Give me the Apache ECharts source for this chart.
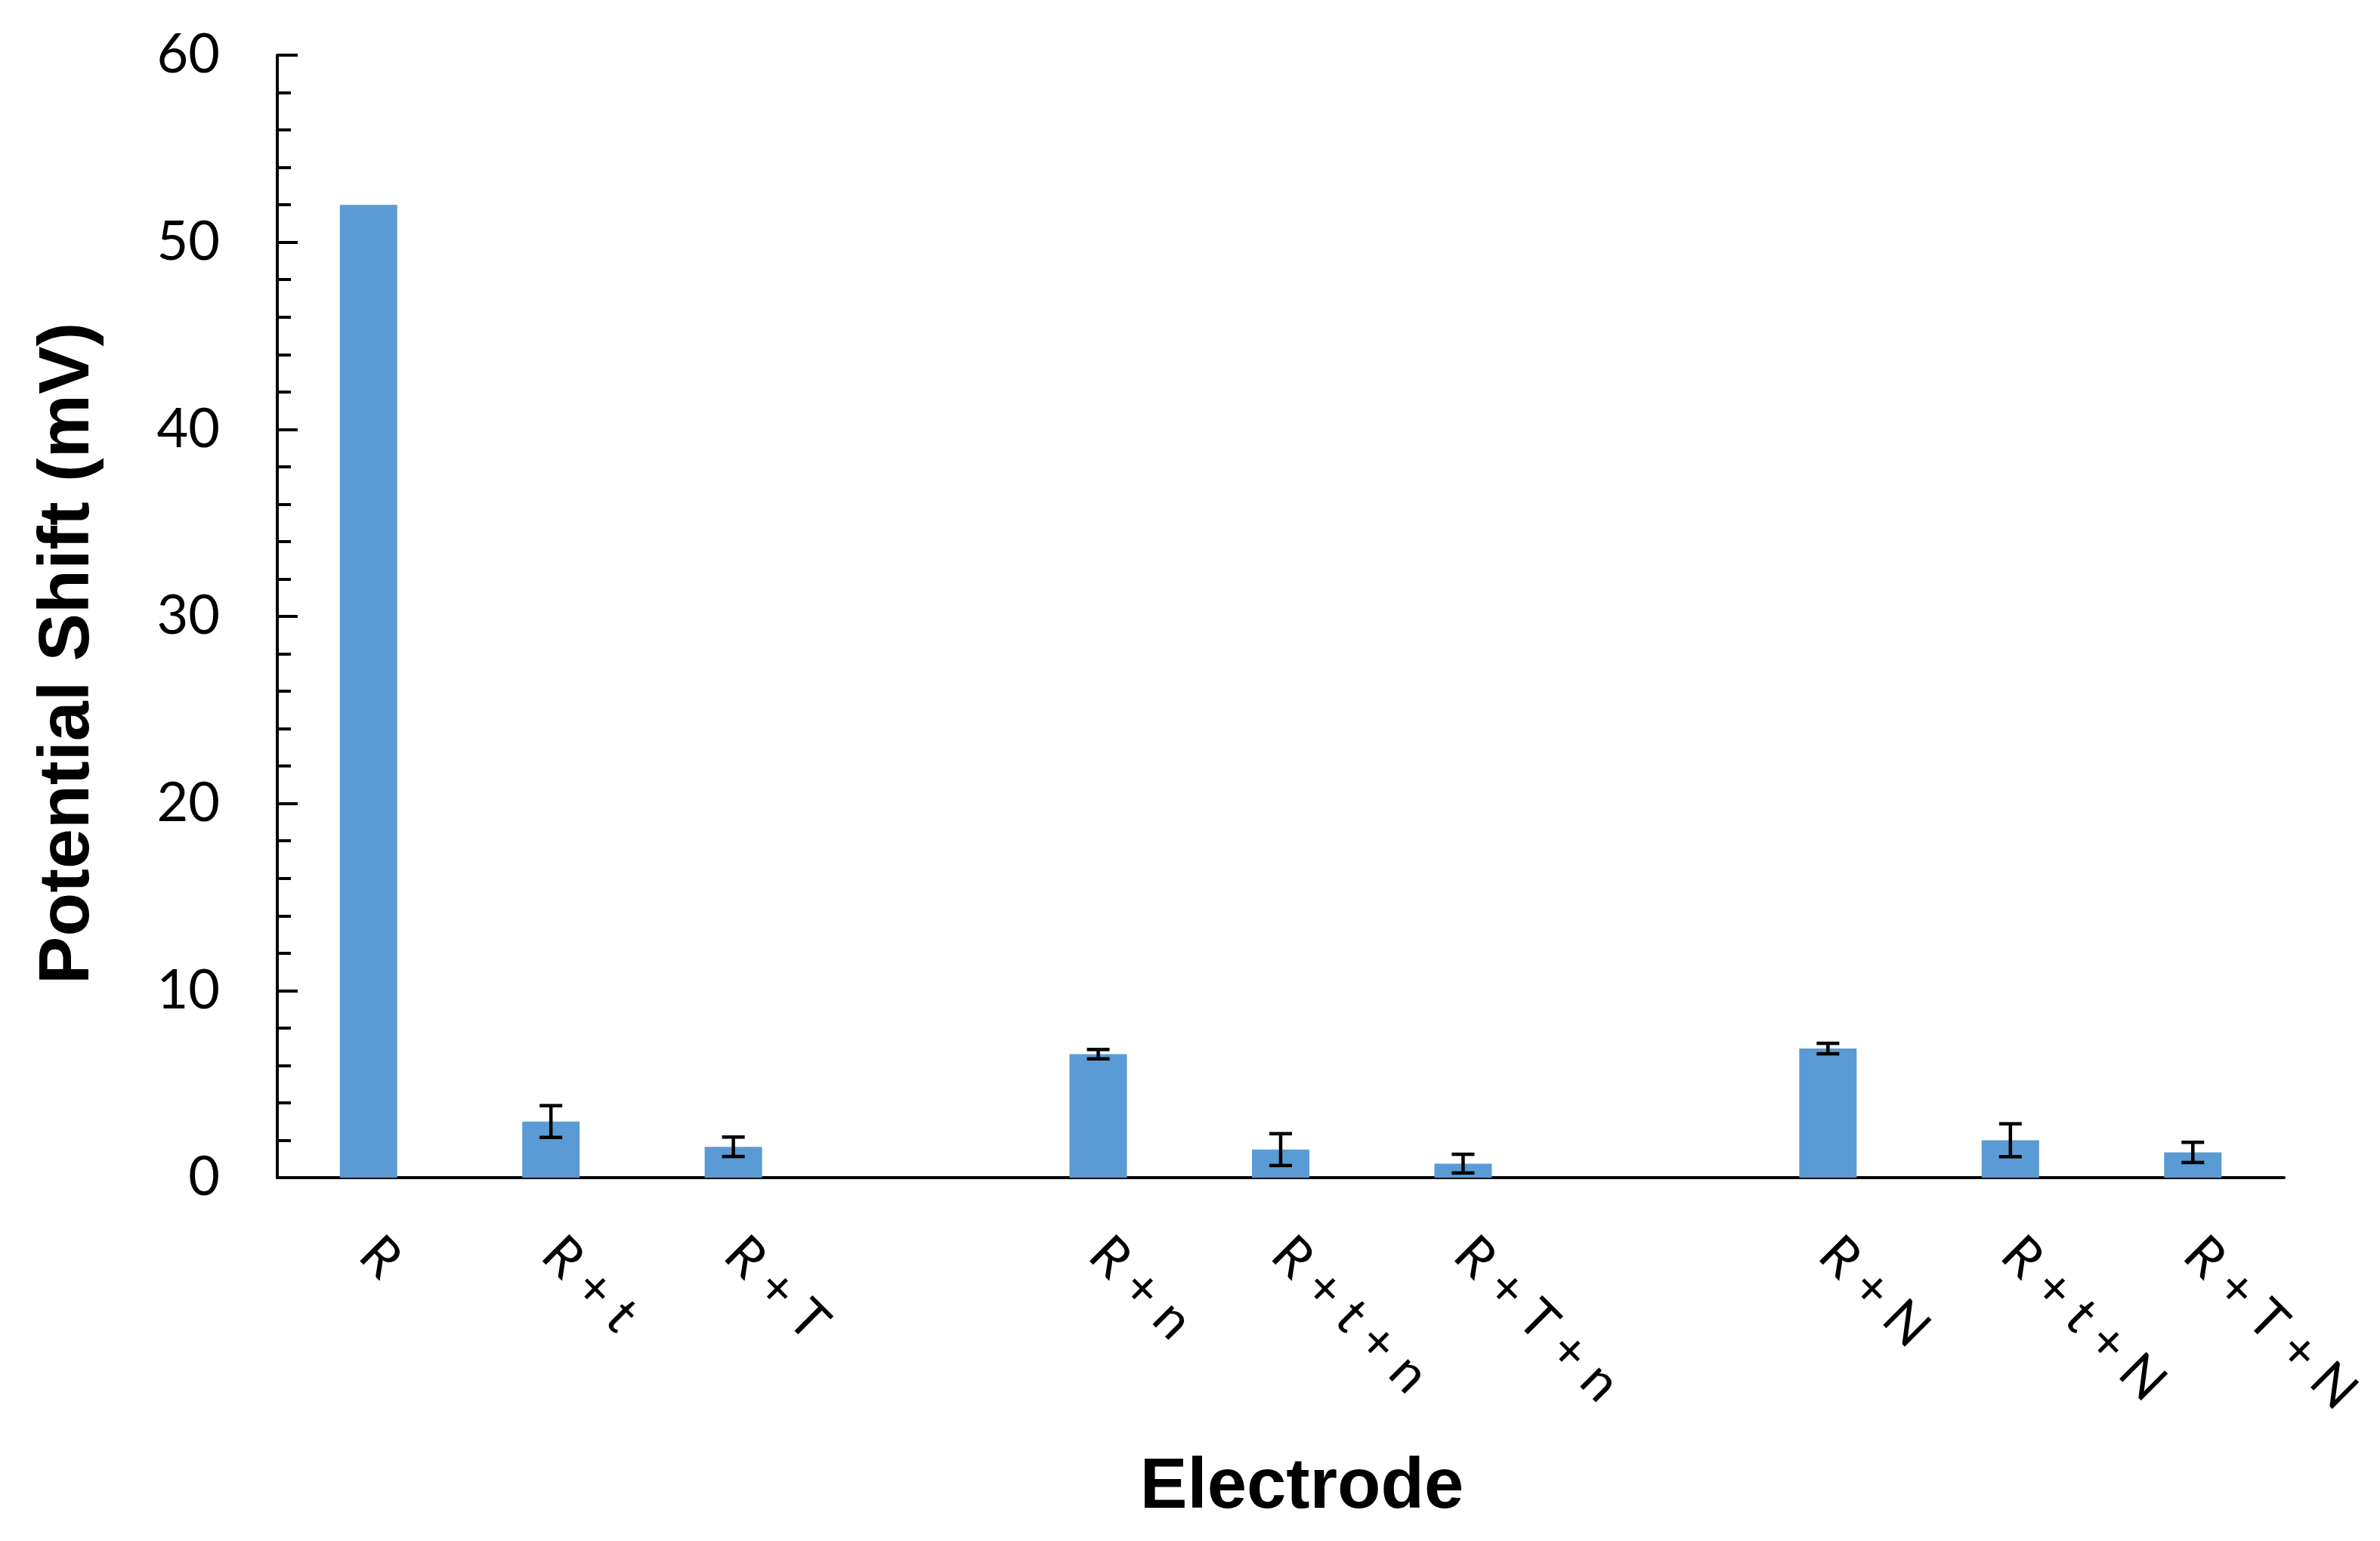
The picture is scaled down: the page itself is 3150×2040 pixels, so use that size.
<!DOCTYPE html>
<html>
<head>
<meta charset="utf-8">
<script src="https://cdn.jsdelivr.net/npm/echarts@6/dist/echarts.min.js"></script>
<style>
html,body{margin:0;padding:0;background:#fff;}
#chart{width:3150px;height:2040px;}
</style>
</head>
<body>
<div id="chart"></div>
<script>
// Categories ('' = gap between groups)
const categories = ['R', 'R+t', 'R+T', '', 'R+n', 'R+t+n', 'R+T+n', '', 'R+N', 'R+t+N', 'R+T+N'];
// Potential shift (mV)
const values = [52.0, 3.0, 1.65, null, 6.6, 1.5, 0.75, null, 6.9, 2.0, 1.35];
// Error (± mV)
const errors = [null, 0.85, 0.52, null, 0.25, 0.85, 0.5, null, 0.28, 0.88, 0.54];
const yTicks = [0, 10, 20, 30, 40, 50, 60];

const errData = [];
categories.forEach((c, i) => {
  if (values[i] != null && errors[i] != null) {
    errData.push([i, values[i] - errors[i], values[i] + errors[i]]);
  }
});

const chart = echarts.init(document.getElementById('chart'));
chart.setOption({
  backgroundColor: '#fff',
  animation: false,
  grid: { left: 367, right: 127, top: 73, bottom: 481, containLabel: false },
  xAxis: {
    type: 'category',
    data: categories,
    name: 'Electrode',
    nameLocation: 'middle',
    nameGap: 364,
    nameTextStyle: { fontFamily: 'Liberation Sans', fontWeight: 'bold', fontSize: 94, color: '#000', padding: [0, 0, 0, 56] },
    axisLine: { lineStyle: { color: '#000', width: 4 } },
    axisTick: { show: false },
    axisLabel: {
      rotate: -45,
      margin: 90,
      interval: 0,
      fontFamily: 'Lato',
      fontSize: 70,
      color: '#000',
      formatter: v => v.split('').join('\u2005')
    },
    splitLine: { show: false }
  },
  yAxis: {
    type: 'value',
    min: yTicks[0],
    max: yTicks[yTicks.length - 1],
    interval: 10,
    name: 'Potential Shift (mV)',
    nameLocation: 'middle',
    nameGap: 229,
    nameTextStyle: { fontFamily: 'Liberation Sans', fontWeight: 'bold', fontSize: 95, color: '#000', padding: [0, 98, 0, 0] },
    axisLine: { show: true, lineStyle: { color: '#000', width: 4 } },
    axisTick: { show: true, inside: true, length: 27, lineStyle: { color: '#000', width: 4 } },
    minorTick: { show: true, splitNumber: 5, length: 18, lineStyle: { color: '#000', width: 4 } },
    axisLabel: { margin: 76, fontFamily: 'Lato', fontSize: 72, color: '#000' },
    splitLine: { show: false }
  },
  series: [
    {
      type: 'bar',
      data: values,
      barWidth: 76,
      itemStyle: { color: '#5B9BD5' }
    },
    {
      type: 'custom',
      data: errData,
      z: 10,
      renderItem: function (params, api) {
        const x = api.value(0);
        const lo = api.coord([x, api.value(1)]);
        const hi = api.coord([x, api.value(2)]);
        const hw = 15;
        const style = { stroke: '#000', lineWidth: 4.5 };
        return {
          type: 'group',
          children: [
            { type: 'line', shape: { x1: lo[0], y1: lo[1], x2: hi[0], y2: hi[1] }, style: style },
            { type: 'line', shape: { x1: lo[0] - hw, y1: lo[1], x2: lo[0] + hw, y2: lo[1] }, style: style },
            { type: 'line', shape: { x1: hi[0] - hw, y1: hi[1], x2: hi[0] + hw, y2: hi[1] }, style: style }
          ]
        };
      }
    }
  ]
});
</script>
</body>
</html>
